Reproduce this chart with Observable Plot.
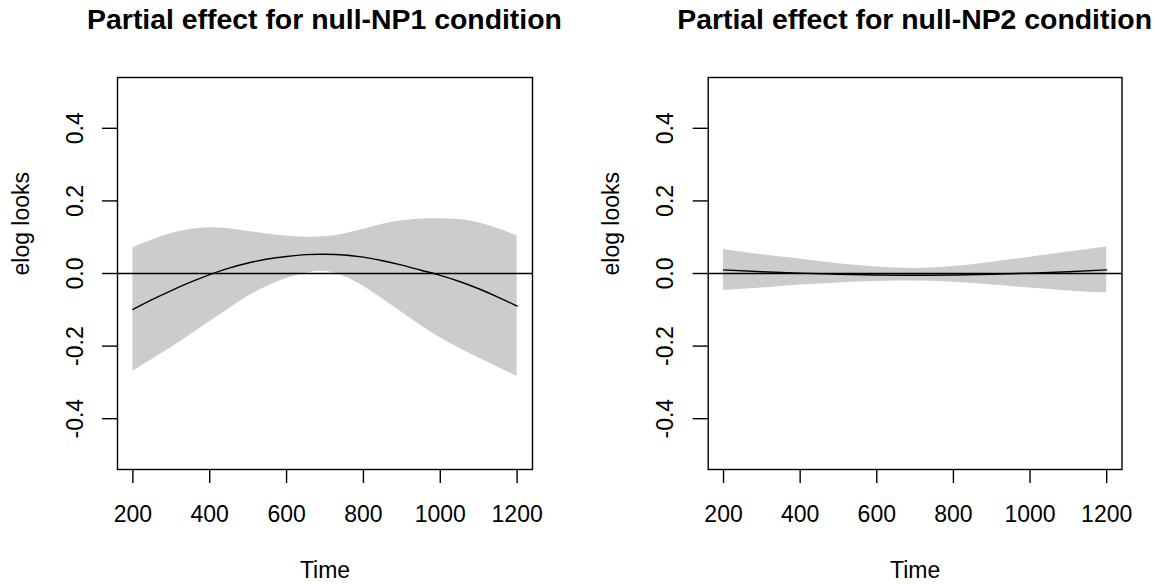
<!DOCTYPE html>
<html>
<head>
<meta charset="utf-8">
<script src="https://cdn.jsdelivr.net/npm/d3@7"></script>
<script src="https://cdn.jsdelivr.net/npm/@observablehq/plot@0.6"></script>
<style>
  html, body { margin: 0; padding: 0; background: #fff; }
  #wrap { display: flex; width: 1155px; height: 584px; font-family: "Liberation Sans", Arial, Helvetica, sans-serif; overflow: hidden; }
  .panel { position: relative; }
  .title { height: 44px; position: relative; }
  .title span { position: absolute; top: 5px; transform: translateX(-50%); text-align: center; font-weight: bold; font-size: 28.4px; line-height: 28.4px; color: #000; white-space: nowrap; }
  svg { display: block; }
</style>
</head>
<body>
<div id="wrap"></div>
<script>
// ---- data ----
const titles = ["Partial effect for null-NP1 condition", "Partial effect for null-NP2 condition"];
const xLabel = "Time";
const yLabel = "elog looks";
const xTicks = [200, 400, 600, 800, 1000, 1200];
const yTicks = [-0.4, -0.2, 0, 0.2, 0.4];

// panel 1: null-NP1
const time1  = [200, 250, 300, 350, 400, 450, 500, 550, 600, 650, 700, 750, 800, 850, 900, 950, 1000, 1050, 1100, 1150, 1200];
const fit1   = [-0.099, -0.072, -0.047, -0.024, -0.003, 0.015, 0.029, 0.040, 0.047, 0.052, 0.053, 0.051, 0.045, 0.035, 0.023, 0.009, -0.005, -0.022, -0.042, -0.065, -0.090];
const upper1 = [0.071, 0.092, 0.110, 0.121, 0.126, 0.123, 0.116, 0.109, 0.103, 0.100, 0.101, 0.109, 0.122, 0.136, 0.145, 0.150, 0.151, 0.149, 0.140, 0.124, 0.104];
const lower1 = [-0.269, -0.237, -0.204, -0.169, -0.133, -0.097, -0.063, -0.035, -0.014, 0.001, 0.006, -0.008, -0.035, -0.070, -0.107, -0.144, -0.177, -0.206, -0.233, -0.258, -0.283];

// panel 2: null-NP2
const time2  = [200, 300, 400, 500, 600, 700, 800, 900, 1000, 1100, 1200];
const fit2   = [0.010, 0.005, 0.001, -0.002, -0.004, -0.005, -0.004, -0.002, 0.001, 0.005, 0.010];
const upper2 = [0.066, 0.052, 0.040, 0.027, 0.018, 0.014, 0.019, 0.031, 0.045, 0.059, 0.073];
const lower2 = [-0.047, -0.040, -0.032, -0.026, -0.022, -0.021, -0.024, -0.032, -0.040, -0.048, -0.054];

const panels = [
  {title: titles[0], time: time1, fit: fit1, upper: upper1, lower: lower1, width: 577, marginLeft: 117, marginRight: 45},
  {title: titles[1], time: time2, fit: fit2, upper: upper2, lower: lower2, width: 578, marginLeft: 130.7, marginRight: 33.5}
];

const wrap = document.getElementById("wrap");
const fontFamily = '"Liberation Sans", Arial, Helvetica, sans-serif';

for (const p of panels) {
  const rows = p.time.map((t, i) => ({time: t, fit: p.fit[i], upper: p.upper[i], lower: p.lower[i]}));
  const div = document.createElement("div");
  div.className = "panel";
  div.style.width = p.width + "px";
  const t = document.createElement("div");
  t.className = "title";
  const span = document.createElement("span");
  span.textContent = p.title;
  span.style.left = (p.marginLeft + (p.width - p.marginLeft - p.marginRight) / 2) + "px";
  t.appendChild(span);
  div.appendChild(t);

  const chart = Plot.plot({
    width: p.width,
    height: 540,
    marginLeft: p.marginLeft,
    marginRight: p.marginRight,
    marginTop: 33,
    marginBottom: 115,
    style: {fontFamily, fontSize: "23px", color: "#000", background: "#fff"},
    x: {domain: [160, 1240]},
    y: {domain: [-0.54, 0.54]},
    marks: [
      Plot.areaY(rows, {x: "time", y1: "lower", y2: "upper", fill: "#cccccc", curve: "natural"}),
      Plot.ruleY([0], {stroke: "#000", strokeWidth: 1.4}),
      Plot.line(rows, {x: "time", y: "fit", stroke: "#000", strokeWidth: 1.4, curve: "natural"}),
      Plot.frame({stroke: "#000", strokeWidth: 1.4}),
      Plot.axisX({ticks: xTicks, tickSize: 14, tickPadding: 22, tickFormat: d => String(d), label: null, fontSize: 23, strokeWidth: 1.4}),
      Plot.axisY({ticks: yTicks, tickSize: 15, tickPadding: 20, tickRotate: -90, tickFormat: d => d.toFixed(1), label: null, fontSize: 23, strokeWidth: 1.4}),
      Plot.text([xLabel], {frameAnchor: "bottom", lineAnchor: "bottom", dy: 108, fontSize: 23, fill: "#000"}),
      Plot.text([yLabel], {frameAnchor: "left", lineAnchor: "bottom", rotate: -90, dx: -88.8, dy: 2, fontSize: 23, fill: "#000"})
    ]
  });
  div.appendChild(chart);
  wrap.appendChild(div);
}
</script>
</body>
</html>
